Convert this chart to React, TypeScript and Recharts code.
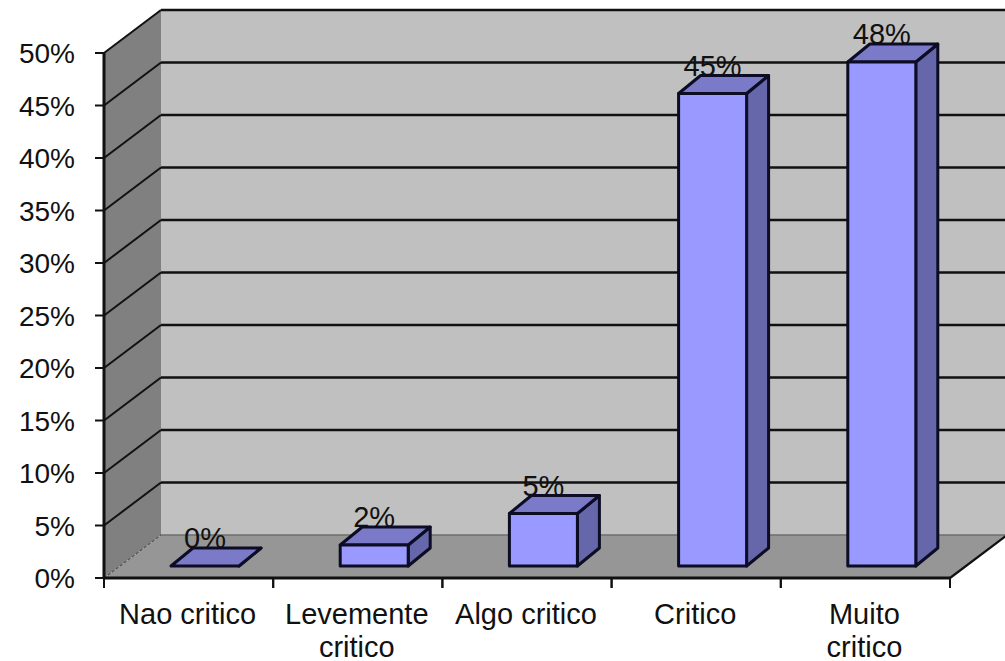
import React from "react";
import { BarChart, Bar, XAxis, YAxis, ReferenceArea, ReferenceLine } from "recharts";

const categories = ["Nao critico", "Levemente critico", "Algo critico", "Critico", "Muito critico"];
const categoryLines: string[][] = [["Nao critico"], ["Levemente", "critico"], ["Algo critico"], ["Critico"], ["Muito", "critico"]];
const shares = [0, 2, 5, 45, 48];
const yTicks = [0, 5, 10, 15, 20, 25, 30, 35, 40, 45, 50];
const gridValues = [5, 10, 15, 20, 25, 30, 35, 40, 45, 50];

const rows = categories.map((name, i) => ({ name, share: shares[i] }));

const FONT = "'Liberation Sans', Arial, sans-serif";
const INK = "#111111";
const WALL_DX = 57;
const WALL_DY = -43;
const BAR_SHIFT_X = 16;
const BAR_SHIFT_Y = -12;
const BAR_DX = 22;
const BAR_DY = -18;

// Side wall, back wall and floor of the 3D box behind the columns.
const Walls = (props: any) => {
  const { x, y, width, height } = props;
  const l = x;
  const r = x + width;
  const t = y;
  const b = y + height;
  const pts = (list: number[][]) => list.map((p) => p.join(",")).join(" ");
  return (
    <g>
      <polygon points={pts([[l + WALL_DX, t + WALL_DY], [r + WALL_DX, t + WALL_DY], [r + WALL_DX, b + WALL_DY], [l + WALL_DX, b + WALL_DY]])} fill="#c0c0c0" />
      <polygon points={pts([[l, t], [l + WALL_DX, t + WALL_DY], [l + WALL_DX, b + WALL_DY], [l, b]])} fill="#808080" />
      <polygon points={pts([[l, b], [l + WALL_DX, b + WALL_DY], [r + WALL_DX, b + WALL_DY], [r, b]])} fill="#969696" />
      <line x1={l} y1={b} x2={l + WALL_DX} y2={b + WALL_DY} stroke="#555" strokeWidth={1.2} strokeDasharray="3 2" />
      <line x1={l + WALL_DX} y1={b + WALL_DY} x2={r + WALL_DX} y2={b + WALL_DY} stroke="#6e6e6e" strokeWidth={1.5} />
      <line x1={r} y1={b} x2={r + WALL_DX} y2={b + WALL_DY} stroke={INK} strokeWidth={2.2} />
    </g>
  );
};

// One gridline: a diagonal across the side wall, then a rule along the back wall.
const WallGridLine = (props: any) => {
  const x1 = Number(props.x1);
  const x2 = Number(props.x2);
  const y = Number(props.y1);
  return (
    <g>
      <line x1={x1} y1={y} x2={x1 + WALL_DX} y2={y + WALL_DY} stroke={INK} strokeWidth={2} />
      <line x1={x1 + WALL_DX} y1={y + WALL_DY} x2={x2 + WALL_DX} y2={y + WALL_DY} stroke={INK} strokeWidth={2.6} />
    </g>
  );
};

// A column drawn as a box, with its value label set just behind the top face.
const BoxColumn = (props: any) => {
  const { x, y, width, height, value } = props;
  const l = x + BAR_SHIFT_X;
  const r = l + width;
  const t = y + BAR_SHIFT_Y;
  const b = t + height;
  const pts = (list: number[][]) => list.map((p) => p.join(",")).join(" ");
  return (
    <g stroke="#0c0c24" strokeWidth={3} strokeLinejoin="round">
      <text x={l + width / 2} y={t - 18} textAnchor="middle" fontFamily={FONT} fontSize={29} fill={INK} stroke="none">
        {`${value}%`}
      </text>
      <polygon points={pts([[r, t], [r + BAR_DX, t + BAR_DY], [r + BAR_DX, b + BAR_DY], [r, b]])} fill="#6666aa" />
      <polygon points={pts([[l, t], [l + BAR_DX, t + BAR_DY], [r + BAR_DX, t + BAR_DY], [r, t]])} fill="#7a7ac8" />
      <rect x={l} y={t} width={width} height={height} fill="#9999ff" />
    </g>
  );
};

const CategoryTick = (props: any) => {
  const { x, y, payload, index } = props;
  const half = payload.offset ?? 84.6;
  const lines = categoryLines[index] ?? [payload.value];
  return (
    <g>
      <line x1={x - half} y1={y} x2={x - half} y2={y + 10} stroke={INK} strokeWidth={2} />
      <line x1={x + half} y1={y} x2={x + half} y2={y + 10} stroke={INK} strokeWidth={2} />
      {lines.map((line, i) => (
        <text key={line} x={x - 1} y={y + 46 + i * 33} textAnchor="middle" fontFamily={FONT} fontSize={29} fill={INK}>
          {line}
        </text>
      ))}
    </g>
  );
};

const PercentTick = (props: any) => {
  const { x, y, payload } = props;
  return (
    <text x={x - 1} y={y + 10} textAnchor="end" fontFamily={FONT} fontSize={28} fill={INK}>
      {`${payload.value}%`}
    </text>
  );
};

export default function App() {
  return (
    <div style={{ position: "absolute", left: 0, top: 0, width: 1005, height: 661, overflow: "hidden", background: "#fff" }}>
      <BarChart
        width={1005}
        height={661}
        data={rows}
        margin={{ top: 53, right: 55, bottom: 0, left: 0 }}
        style={{ overflow: "visible" }}
      >
        <ReferenceArea y1={0} y2={50} ifOverflow="visible" shape={Walls} zIndex={-10} />
        {gridValues.map((v) => (
          <ReferenceLine key={v} y={v} ifOverflow="visible" shape={WallGridLine} zIndex={-5} />
        ))}
        <XAxis
          dataKey="name"
          height={83}
          interval={0}
          tick={CategoryTick}
          tickLine={false}
          tickSize={0}
          tickMargin={0}
          axisLine={{ stroke: INK, strokeWidth: 3 }}
        />
        <YAxis
          width={104}
          domain={[0, 50]}
          ticks={yTicks}
          interval={0}
          tick={PercentTick}
          tickSize={9}
          tickMargin={19}
          tickLine={{ stroke: INK, strokeWidth: 2 }}
          axisLine={{ stroke: INK, strokeWidth: 3 }}
        />
        <Bar dataKey="share" barSize={68} shape={BoxColumn} isAnimationActive={false} />
      </BarChart>
    </div>
  );
}
